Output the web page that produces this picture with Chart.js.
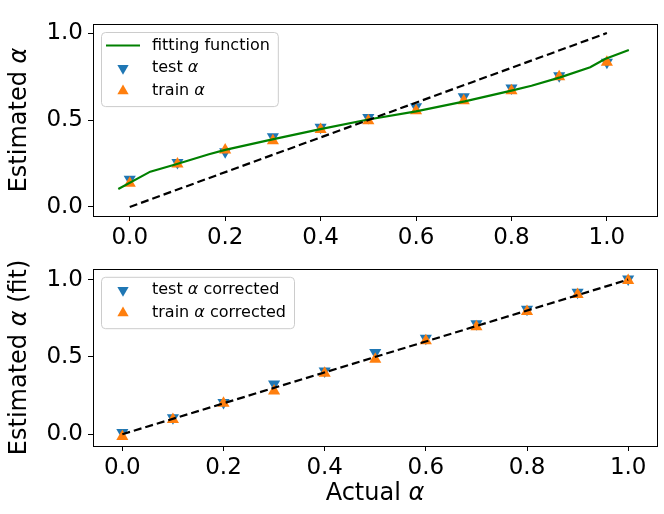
<!DOCTYPE html>
<html lang="en">
<head>
  <meta charset="UTF-8" />
  <title>Estimated vs actual alpha</title>
  <style>
    html, body { margin: 0; padding: 0; background: #fff; }
    body { width: 664px; height: 514px; position: relative; overflow: hidden; }
    .panel { position: absolute; left: 0; }
    #top { top: 0; }
    #bottom { top: 250px; }
  </style>
</head>
<body>
  <div class="panel" id="top"><canvas id="fitChart" width="664" height="250"></canvas></div>
  <div class="panel" id="bottom"><canvas id="corrChart" width="664" height="264"></canvas></div>

  <script src="https://cdn.jsdelivr.net/npm/chart.js"></script>
  <script>
    // actual alpha values (x positions of the markers)
    const actualAlpha = [0.0, 0.1, 0.2, 0.3, 0.4, 0.5, 0.6, 0.7, 0.8, 0.9, 1.0];

    // top panel
    const testAlpha  = [0.159, 0.255, 0.318, 0.404, 0.458, 0.515, 0.576, 0.634, 0.684, 0.755, 0.832];
    const trainAlpha = [0.136, 0.247, 0.328, 0.381, 0.446, 0.496, 0.553, 0.611, 0.668, 0.749, 0.832];
    const fitX = [-0.024, 0.043, 0.099, 0.166, 0.2, 0.299, 0.397, 0.5, 0.6, 0.702, 0.8, 0.842, 0.902, 0.965, 0.996, 1.046];
    const fitY = [0.103, 0.203, 0.247, 0.303, 0.328, 0.389, 0.446, 0.503, 0.55, 0.607, 0.669, 0.697, 0.745, 0.803, 0.851, 0.902];

    // bottom panel
    const testCorrected  = [0.012, 0.106, 0.206, 0.325, 0.409, 0.529, 0.621, 0.715, 0.808, 0.918, 1.004];
    const trainCorrected = [-0.014, 0.096, 0.200, 0.279, 0.395, 0.485, 0.605, 0.695, 0.794, 0.904, 0.994];

    // y = x reference line
    const identityX = [0, 1];

    const xTicks = [0.0, 0.2, 0.4, 0.6, 0.8, 1.0];
    const yTicks = [0.0, 0.5, 1.0];

    const FONT = '"DejaVu Sans", sans-serif';
    const BLUE = '#1f77b4', ORANGE = '#ff7f0e', GREEN = '#008000';

    const pts = (xs, ys) => xs.map((x, i) => ({ x: x, y: ys[i] }));

    // text with the alpha drawn in italic, like matplotlib mathtext
    function drawRich(ctx, text, x, y, size, align) {
      const parts = text.split(/(α)/).filter(p => p.length);
      const fontOf = p => (p === 'α' ? 'italic ' : '') + size + 'px ' + FONT;
      let total = 0;
      parts.forEach(p => { ctx.font = fontOf(p); total += ctx.measureText(p).width; });
      let cx = align === 'center' ? x - total / 2 : x;
      ctx.textBaseline = 'middle';
      ctx.textAlign = 'left';
      parts.forEach(p => {
        ctx.font = fontOf(p);
        ctx.fillText(p, cx, y);
        cx += ctx.measureText(p).width;
      });
      return total;
    }

    function triangle(ctx, x, y, r, down, color) {
      let rad = down ? Math.PI : 0;
      ctx.beginPath();
      for (let i = 0; i < 3; i++) {
        const px = x + Math.sin(rad) * r, py = y - Math.cos(rad) * r;
        if (i === 0) ctx.moveTo(px, py); else ctx.lineTo(px, py);
        rad += 2 * Math.PI / 3;
      }
      ctx.closePath();
      ctx.fillStyle = color;
      ctx.fill();
    }

    // frame, axis titles and legend box drawn matplotlib style
    const mplDecor = {
      id: 'mplDecor',
      afterDraw(chart, args, opts) {
        const ctx = chart.ctx, a = chart.chartArea;
        ctx.save();
        ctx.strokeStyle = '#000';
        ctx.lineWidth = 1;
        ctx.strokeRect(Math.round(a.left) + 0.5, Math.round(a.top) + 0.5,
                       Math.round(a.right - a.left), Math.round(a.bottom - a.top));

        ctx.fillStyle = '#000';
        if (opts.yTitle) {
          ctx.save();
          ctx.translate(20, (a.top + a.bottom) / 2);
          ctx.rotate(-Math.PI / 2);
          drawRich(ctx, opts.yTitle, 0, 0, 24, 'center');
          ctx.restore();
        }
        if (opts.xTitle) {
          drawRich(ctx, opts.xTitle, (a.left + a.right) / 2, opts.xTitleY, 24, 'center');
        }

        if (opts.legend) {
          const items = opts.legend;
          const bx = a.left + 8, by = a.top + 8;
          const rowH = 22.7, textX = bx + 51;
          let maxW = 0;
          items.forEach(it => {
            const w = drawRich(ctx, it.label, -9999, -9999, 16, 'left');
            maxW = Math.max(maxW, w);
          });
          const bw = textX - bx + maxW + 8;
          const bh = items.length * rowH + 6;
          ctx.beginPath();
          ctx.roundRect(bx + 0.5, by + 0.5, bw, bh, 4);
          ctx.fillStyle = 'rgba(255,255,255,0.8)';
          ctx.fill();
          ctx.strokeStyle = '#cccccc';
          ctx.lineWidth = 1;
          ctx.stroke();
          items.forEach((it, i) => {
            const cy = by + 13.5 + i * rowH;
            if (it.kind === 'line') {
              ctx.beginPath();
              ctx.moveTo(bx + 5, cy);
              ctx.lineTo(bx + 39, cy);
              ctx.strokeStyle = it.color;
              ctx.lineWidth = 2;
              ctx.stroke();
            } else {
              triangle(ctx, bx + 22, cy, 6.5, it.kind === 'down', it.color);
            }
            ctx.fillStyle = '#000';
            drawRich(ctx, it.label, textX, cy, 16, 'left');
          });
        }
        ctx.restore();
      }
    };

    function axisOpts(min, max, ticks, fixSize, isX) {
      return {
        type: 'linear',
        min: min,
        max: max,
        afterBuildTicks: s => { s.ticks = ticks.map(v => ({ value: v })); },
        afterFit: s => { if (isX) s.height = fixSize; else s.width = fixSize; },
        border: { display: false },
        grid: {
          display: true, drawOnChartArea: false, drawTicks: true,
          tickLength: 5, color: '#000', lineWidth: 1
        },
        ticks: {
          color: '#000',
          font: { size: 23, family: FONT },
          padding: isX ? 3 : 5,
          callback: v => Number(v).toFixed(1)
        },
        title: { display: false }
      };
    }

    function markerSet(data, color, down, order) {
      return {
        data: data,
        showLine: false,
        pointStyle: 'triangle',
        rotation: down ? 180 : 0,
        pointRadius: 7,
        pointHoverRadius: 7,
        pointBackgroundColor: color,
        pointBorderWidth: 0,
        order: order
      };
    }

    function lineSet(data, color, dash, order) {
      return {
        data: data,
        showLine: true,
        borderColor: color,
        borderWidth: 2.2,
        borderDash: dash,
        pointRadius: 0,
        pointHoverRadius: 0,
        tension: 0,
        order: order
      };
    }

    const baseOpts = {
      responsive: false,
      animation: false,
      events: []
    };

    new Chart(document.getElementById('fitChart'), {
      type: 'scatter',
      data: {
        datasets: [
          markerSet(pts(actualAlpha, testAlpha), BLUE, true, 4),
          markerSet(pts(actualAlpha, trainAlpha), ORANGE, false, 3),
          lineSet(pts(fitX, fitY), GREEN, [], 2),
          lineSet(pts(identityX, identityX), '#000', [8, 4], 1)
        ]
      },
      options: Object.assign({}, baseOpts, {
        layout: { padding: { left: 0, right: 6, top: 24, bottom: 0 } },
        scales: {
          x: axisOpts(-0.077, 1.105, xTicks, 34, true),
          y: axisOpts(-0.052, 1.052, yTicks, 93, false)
        },
        plugins: {
          legend: { display: false },
          tooltip: { enabled: false },
          mplDecor: {
            yTitle: 'Estimated α',
            legend: [
              { kind: 'line', color: GREEN, label: 'fitting function' },
              { kind: 'down', color: BLUE, label: 'test α' },
              { kind: 'up', color: ORANGE, label: 'train α' }
            ]
          }
        }
      }),
      plugins: [mplDecor]
    });

    new Chart(document.getElementById('corrChart'), {
      type: 'scatter',
      data: {
        datasets: [
          markerSet(pts(actualAlpha, testCorrected), BLUE, true, 3),
          markerSet(pts(actualAlpha, trainCorrected), ORANGE, false, 2),
          lineSet(pts(identityX, identityX), '#000', [8, 4], 1)
        ]
      },
      options: Object.assign({}, baseOpts, {
        layout: { padding: { left: 0, right: 6, top: 4, bottom: 0 } },
        scales: {
          x: axisOpts(-0.058, 1.057, xTicks, 68, true),
          y: axisOpts(-0.076, 1.07, yTicks, 93, false)
        },
        plugins: {
          legend: { display: false },
          tooltip: { enabled: false },
          mplDecor: {
            yTitle: 'Estimated α (fit)',
            xTitle: 'Actual α',
            xTitleY: 244,
            legend: [
              { kind: 'down', color: BLUE, label: 'test α corrected' },
              { kind: 'up', color: ORANGE, label: 'train α corrected' }
            ]
          }
        }
      }),
      plugins: [mplDecor]
    });
  </script>
</body>
</html>
